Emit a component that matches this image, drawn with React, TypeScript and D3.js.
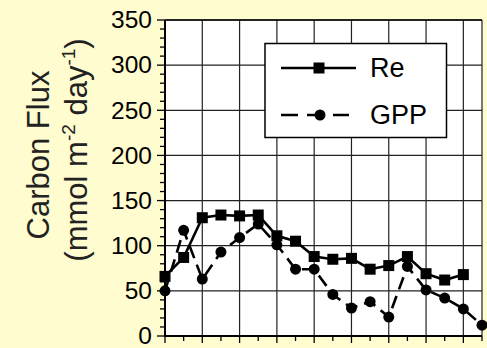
import React, { useEffect, useRef } from "react";
import * as d3 from "d3";

// sampling index along the x axis (no labels on the x axis)
const days: number[] = d3.range(18);

const reValues: (number | null)[] = [
  66, 87, 131, 134, 133, 134, 111, 105, 88, 85, 86, 74, 78, 88, 69, 62, 68, null,
];
const gppValues: (number | null)[] = [
  50, 117, 63, 93, 109, 124, 101, 74, 74, 46, 31, 38, 21, 77, 51, 42, 30, 12,
];

const yTicks: number[] = [0, 50, 100, 150, 200, 250, 300, 350];
const seriesNames: string[] = ["Re", "GPP"];

const W = 487;
const H = 348;

const App = () => {
  const ref = useRef<SVGSVGElement | null>(null);

  useEffect(() => {
    if (!ref.current) return;
    const svg = d3.select(ref.current);
    svg.selectAll("*").remove();

    const font = "'Liberation Sans', Arial, sans-serif";
    const left = 165, right = 482, top = 20, bottom = 336;

    const x = d3.scaleLinear().domain([0, 17]).range([left, right]);
    const y = d3.scaleLinear().domain([0, 350]).range([bottom, top]);

    svg.append("rect").attr("width", W).attr("height", H).attr("fill", "#FFFCCF");
    svg
      .append("rect")
      .attr("x", left)
      .attr("y", top)
      .attr("width", right - left)
      .attr("height", bottom - top)
      .attr("fill", "#fff");

    // grid
    const grid = svg.append("g").attr("stroke", "#222").attr("stroke-width", 1.2);
    grid
      .selectAll("line.h")
      .data(yTicks.slice(1))
      .enter()
      .append("line")
      .attr("x1", left)
      .attr("x2", right)
      .attr("y1", (d) => y(d))
      .attr("y2", (d) => y(d));
    grid
      .selectAll("line.v")
      .data(d3.range(2, 18, 2).concat([17]))
      .enter()
      .append("line")
      .attr("x1", (d) => x(d))
      .attr("x2", (d) => x(d))
      .attr("y1", top)
      .attr("y2", bottom);

    // y axis
    const yAxis = svg.append("g").attr("stroke", "#000");
    yAxis
      .selectAll("line.minor")
      .data(d3.range(0, 351, 10))
      .enter()
      .append("line")
      .attr("x1", (d) => (d % 50 === 0 ? left - 8 : left - 5))
      .attr("x2", left)
      .attr("y1", (d) => y(d))
      .attr("y2", (d) => y(d))
      .attr("stroke-width", 1.3);
    yAxis
      .append("line")
      .attr("x1", left)
      .attr("x2", left)
      .attr("y1", top)
      .attr("y2", bottom + 1)
      .attr("stroke-width", 2);
    svg
      .append("g")
      .selectAll("text")
      .data(yTicks)
      .enter()
      .append("text")
      .attr("x", left - 13)
      .attr("y", (d) => y(d))
      .attr("dy", "0.34em")
      .attr("text-anchor", "end")
      .attr("font-family", font)
      .attr("font-size", 24.5)
      .text((d) => d);

    // x axis
    const xAxis = svg.append("g").attr("stroke", "#000");
    xAxis
      .selectAll("line")
      .data(days)
      .enter()
      .append("line")
      .attr("x1", (d) => x(d))
      .attr("x2", (d) => x(d))
      .attr("y1", bottom)
      .attr("y2", (d) => (d % 2 === 0 ? bottom + 7 : bottom + 5))
      .attr("stroke-width", 1.3);
    xAxis
      .append("line")
      .attr("x1", left - 1)
      .attr("x2", right)
      .attr("y1", bottom)
      .attr("y2", bottom)
      .attr("stroke-width", 2.2);
    svg
      .append("line")
      .attr("x1", left)
      .attr("x2", right)
      .attr("y1", top)
      .attr("y2", top)
      .attr("stroke", "#000")
      .attr("stroke-width", 1.6);

    // series
    const line = d3
      .line<number | null>()
      .defined((d) => d !== null)
      .x((_, i) => x(days[i]))
      .y((d) => y(d as number));

    svg
      .append("path")
      .attr("d", line(reValues))
      .attr("fill", "none")
      .attr("stroke", "#000")
      .attr("stroke-width", 2.6);
    svg
      .append("path")
      .attr("d", line(gppValues))
      .attr("fill", "none")
      .attr("stroke", "#000")
      .attr("stroke-width", 2.6)
      .attr("stroke-dasharray", "13,7");

    const sq = 11;
    svg
      .append("g")
      .selectAll("rect")
      .data(reValues.map((v, i) => ({ v, i })).filter((d) => d.v !== null))
      .enter()
      .append("rect")
      .attr("x", (d) => x(days[d.i]) - sq / 2)
      .attr("y", (d) => y(d.v as number) - sq / 2)
      .attr("width", sq)
      .attr("height", sq)
      .attr("fill", "#000");
    svg
      .append("g")
      .selectAll("circle")
      .data(gppValues.map((v, i) => ({ v, i })).filter((d) => d.v !== null))
      .enter()
      .append("circle")
      .attr("cx", (d) => x(days[d.i]))
      .attr("cy", (d) => y(d.v as number))
      .attr("r", 5.5)
      .attr("fill", "#000");

    // legend
    const lg = svg.append("g");
    lg.append("rect")
      .attr("x", 265)
      .attr("y", 43.5)
      .attr("width", 181.5)
      .attr("height", 94)
      .attr("fill", "#fff")
      .attr("stroke", "#000")
      .attr("stroke-width", 1.5);
    seriesNames.forEach((name, i) => {
      const ly = 68 + i * 47;
      lg.append("line")
        .attr("x1", 281)
        .attr("x2", i === 0 ? 356 : 349)
        .attr("y1", ly)
        .attr("y2", ly)
        .attr("stroke", "#000")
        .attr("stroke-width", 2.6)
        .attr("stroke-dasharray", i === 0 ? null : "17,9");
      if (i === 0) {
        lg.append("rect")
          .attr("x", 319 - sq / 2)
          .attr("y", ly - sq / 2)
          .attr("width", sq)
          .attr("height", sq)
          .attr("fill", "#000");
      } else {
        lg.append("circle").attr("cx", 320).attr("cy", ly).attr("r", 5.5).attr("fill", "#000");
      }
      lg.append("text")
        .attr("x", 370)
        .attr("y", ly + 9)
        .attr("font-family", font)
        .attr("font-size", 27)
        .text(name);
    });

    // y title
    const title = svg
      .append("text")
      .attr("transform", "translate(49,155) rotate(-90)")
      .attr("text-anchor", "middle")
      .attr("font-family", font)
      .attr("font-size", 31)
      .attr("fill", "#222");
    title.append("tspan").attr("x", 0).attr("y", 0).text("Carbon Flux");
    const l2 = svg
      .append("text")
      .attr("transform", "translate(87,150) rotate(-90)")
      .attr("text-anchor", "middle")
      .attr("font-family", font)
      .attr("font-size", 31)
      .attr("fill", "#222");
    l2.append("tspan").text("(mmol m");
    l2.append("tspan").attr("font-size", 19).attr("dy", -12).text("-2");
    l2.append("tspan").attr("dy", 12).text(" day");
    l2.append("tspan").attr("font-size", 19).attr("dy", -12).text("-1");
    l2.append("tspan").attr("dy", 12).text(")");
  }, []);

  return (
    <svg
      ref={ref}
      width={W}
      height={H}
      style={{ position: "absolute", left: 0, top: 0, display: "block" }}
    />
  );
};

export default App;
